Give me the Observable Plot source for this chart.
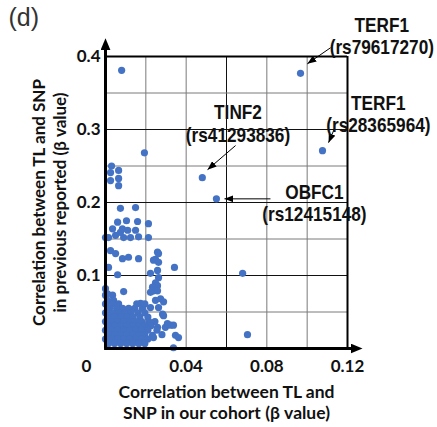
<!DOCTYPE html>
<html><head><meta charset="utf-8">
<script src="https://cdn.jsdelivr.net/npm/d3@7"></script>
<script src="https://cdn.jsdelivr.net/npm/@observablehq/plot@0.6"></script>
<style>body{margin:0;background:#fff}</style>
</head><body><div id="chart"></div>
<script>
// β value in our cohort (x) and in previous reports (y)
const cohortBeta = [
  0.008,0.0967,0.1076,0.0193,0.048,0.055,0.003,0.0025,0.0025,0.0065,0.0065,0.0065,0.0074,0.0149,0.068,0.0704,0.0342,0.0337,
  0.006,0.0104,0.0159,0.0213,0.0035,0.0084,0.011,0.0149,0.0015,0.000,0.005,0.009,0.0124,0.0164,0.0213,0.0074,
  0.0025,0.005,0.0084,0.0114,0.0164,0.0258,0.0248,0.0263,0.0238,0.0263,
  0.0015,0.006,0.0223,0.0258,0.0263,0.0248,0.0258,0.0233,0.0238,0.0223,0.0258,0.009,0.001,0.0273,0.0288,0.0248,0.0263,0.0223,0.0283,0.0174,0.0183,0.0288,
  0.0297,0.0322,0.0337,0.0258,0.0347,0.0362,0.0238,0.0307,0.0233,
  0.000,
  0.000,0.0035,
  0.001,0.004,
  0.000,0.0035,0.0065,0.0155,0.0195,
  0.002,0.0055,0.0085,0.0115,0.0145,
  0.000,0.0035,0.0065,0.0095,0.0125,0.016,0.0195,
  0.0015,0.0045,0.0075,0.0105,0.0135,0.017,0.021,
  0.000,0.003,0.006,0.009,0.012,0.015,0.018,0.0215,0.0245,
  0.0015,0.0045,0.0075,0.0105,0.0135,0.0165,0.0195,0.0225,
  0.000,0.003,0.006,0.009,0.012,0.015,0.018,0.021,0.0255,
  0.0015,0.0045,0.0075,0.0105,0.0135,0.0165,0.0195,0.028,
  0.000,0.003,0.006,0.009,0.012,0.015,0.018,0.021,
  0.0015,0.0045,0.0075,0.0105,0.0135,0.0165,0.0195
];
const reportedBeta = [
  0.381,0.377,0.271,0.268,0.234,0.205,0.250,0.241,0.230,0.244,0.233,0.223,0.192,0.193,0.103,0.019,0.111,0.001,
  0.173,0.175,0.174,0.171,0.164,0.164,0.162,0.162,0.152,0.152,0.155,0.152,0.152,0.153,0.152,0.159,
  0.134,0.130,0.123,0.125,0.123,0.132,0.122,0.130,0.121,0.118,
  0.111,0.101,0.103,0.107,0.097,0.090,0.086,0.084,0.079,0.077,0.079,0.078,0.075,0.068,0.064,0.066,0.056,0.056,0.047,0.062,0.055,0.045,
  0.029,0.032,0.032,0.029,0.018,0.015,0.015,0.034,0.018,
  0.082,
  0.073,0.073,
  0.066,0.066,
  0.061,0.061,0.061,0.061,0.061,
  0.055,0.055,0.055,0.055,0.055,
  0.049,0.049,0.049,0.049,0.049,0.049,0.049,
  0.043,0.043,0.043,0.043,0.043,0.043,0.043,
  0.037,0.037,0.037,0.037,0.037,0.037,0.037,0.037,0.037,
  0.031,0.031,0.031,0.031,0.031,0.031,0.031,0.031,
  0.025,0.025,0.025,0.025,0.025,0.025,0.025,0.025,0.025,
  0.019,0.019,0.019,0.019,0.019,0.019,0.019,0.019,
  0.013,0.013,0.013,0.013,0.013,0.013,0.013,0.013,
  0.007,0.007,0.007,0.007,0.007,0.007,0.007
];
const xTickValues = [0.04, 0.08, 0.12];
const yTickValues = [0.1, 0.2, 0.3, 0.4];
const xGridMinor = [0.02, 0.04, 0.08, 0.10];
const xGridMajor = [0.06];
const yGridMinor = [0.05, 0.15, 0.25, 0.35];
const yGridMajor = [0.1, 0.2, 0.3];
// labelled SNPs
const annGene = ["TERF1", "TERF1", "TINF2", "OBFC1"];
const annRs = ["(rs79617270)", "(rs28365964)", "(rs41293836)", "(rs12415148)"];
const annLabelX = [0.137, 0.1353, 0.0657, 0.1036];
const annLabelY = [0.456, 0.349, 0.336, 0.227];
const annFromX = [0.1116, 0.1135, 0.0645, 0.0818];
const annFromY = [0.412, 0.301, 0.278, 0.205];
const annToX = [0.1001, 0.1106, 0.0506, 0.059];
const annToY = [0.390, 0.282, 0.245, 0.205];

const pts = cohortBeta.map((x, i) => ({x, y: reportedBeta[i]}));
const ann = annGene.map((g, i) => ({
  text: g + "\n" + annRs[i], lx: annLabelX[i], ly: annLabelY[i],
  x1: annFromX[i], y1: annFromY[i], x2: annToX[i], y2: annToY[i]
}));

const sans = "'Liberation Sans', Arial, sans-serif";
const svg = Plot.plot({
  width: 437, height: 427,
  marginLeft: 105, marginRight: 90, marginTop: 56, marginBottom: 79,
  x: {domain: [0, 0.12]},
  y: {domain: [0, 0.4]},
  style: {fontFamily: "Lato, sans-serif", fontWeight: "bold", fontSize: "16px", color: "#111", background: "#fff", overflow: "visible"},
  marks: [
    Plot.ruleX(xGridMinor, {y1: 0, y2: 0.4, stroke: "#7a7a7a", strokeWidth: 1}),
    Plot.ruleX(xGridMajor, {y1: 0, y2: 0.4, stroke: "#111", strokeWidth: 1}),
    Plot.ruleY(yGridMinor, {x1: 0, x2: 0.12, stroke: "#7a7a7a", strokeWidth: 1}),
    Plot.ruleY(yGridMajor, {x1: 0, x2: 0.12, stroke: "#111", strokeWidth: 1}),
    Plot.ruleY([0.4], {x1: 0, x2: 0.12, stroke: "#000", strokeWidth: 2}),
    Plot.ruleX([0.12], {y1: 0, y2: 0.4, stroke: "#000", strokeWidth: 2}),
    Plot.dot(pts, {x: "x", y: "y", r: 3.6, fill: "#4472C4", stroke: "none"}),
    Plot.link([{x1: 0, y1: 0, x2: 0, y2: 0.41}, {x1: -0.0007, y1: 0, x2: 0.122, y2: 0}],
      {x1: "x1", y1: "y1", x2: "x2", y2: "y2", stroke: "#000", strokeWidth: 3, ariaLabel: () => "axis-arrow"}),
    Plot.link(ann, {x1: "x1", y1: "y1", x2: "x2", y2: "y2", stroke: "#000", strokeWidth: 1, ariaLabel: () => "ann-arrow"}),
    Plot.text(ann, {x: "lx", y: "ly", text: "text", lineAnchor: "top", textAnchor: "middle",
      fontFamily: sans, fontWeight: "bold", fontSize: 21, lineHeight: 1.07, fill: "#111", ariaLabel: () => "ann-text"}),
    Plot.axisX(xTickValues, {tickSize: 0, tickPadding: 11, tickFormat: d => d.toFixed(2), fontSize: 17, label: null}),
    Plot.text(["0"], {x: 0, y: 0, dx: -19, dy: 11, lineAnchor: "top", fontSize: 17}),
    Plot.axisY(yTickValues, {tickSize: 0, tickPadding: 5, tickFormat: d => d.toFixed(1), fontSize: 17, label: null}),
    Plot.text(["Correlation between TL and\nSNP in our cohort (β value)"], {frameAnchor: "bottom", dy: 34, lineAnchor: "top", textAnchor: "middle", lineHeight: 1.22, fontSize: 17.5}),
    Plot.text(["Correlation between TL and SNP\nin previous reported (β value)"], {frameAnchor: "left", dx: -76, rotate: -90, lineAnchor: "top", textAnchor: "middle", lineHeight: 1.25, fontSize: 17}),
    Plot.text(["(d)"], {frameAnchor: "top-left", dx: -97, dy: -48, lineAnchor: "top", textAnchor: "start", fontSize: 25, fontWeight: "normal", fontFamily: sans, fill: "#333"})
  ]
});

const defs = document.createElementNS("http://www.w3.org/2000/svg", "defs");
defs.innerHTML =
  '<marker id="headAxis" viewBox="0 0 12 10" refX="1" refY="5" markerWidth="12" markerHeight="10" markerUnits="userSpaceOnUse" orient="auto"><path d="M0,0L12,5L0,10z" fill="#000"/></marker>' +
  '<marker id="headAnn" viewBox="0 0 9 7" refX="9" refY="3.5" markerWidth="9" markerHeight="7" markerUnits="userSpaceOnUse" orient="auto"><path d="M0,0L9,3.5L0,7z" fill="#000"/></marker>';
svg.insertBefore(defs, svg.firstChild);
svg.querySelectorAll('[aria-label="axis-arrow"]').forEach(p => p.setAttribute("marker-end", "url(#headAxis)"));
svg.querySelectorAll('[aria-label="ann-arrow"]').forEach(p => p.setAttribute("marker-end", "url(#headAnn)"));
document.getElementById("chart").appendChild(svg);
// narrow (condensed) look for the SNP labels: squeeze each label horizontally about its own centre
svg.querySelectorAll('text[aria-label="ann-text"]').forEach(t => {
  const b = t.getBBox();
  const cx = b.x + b.width / 2;
  t.setAttribute("transform", (t.getAttribute("transform") || "") + ` translate(${cx},0) scale(0.82,1) translate(${-cx},0)`);
});
</script>
</body></html>
